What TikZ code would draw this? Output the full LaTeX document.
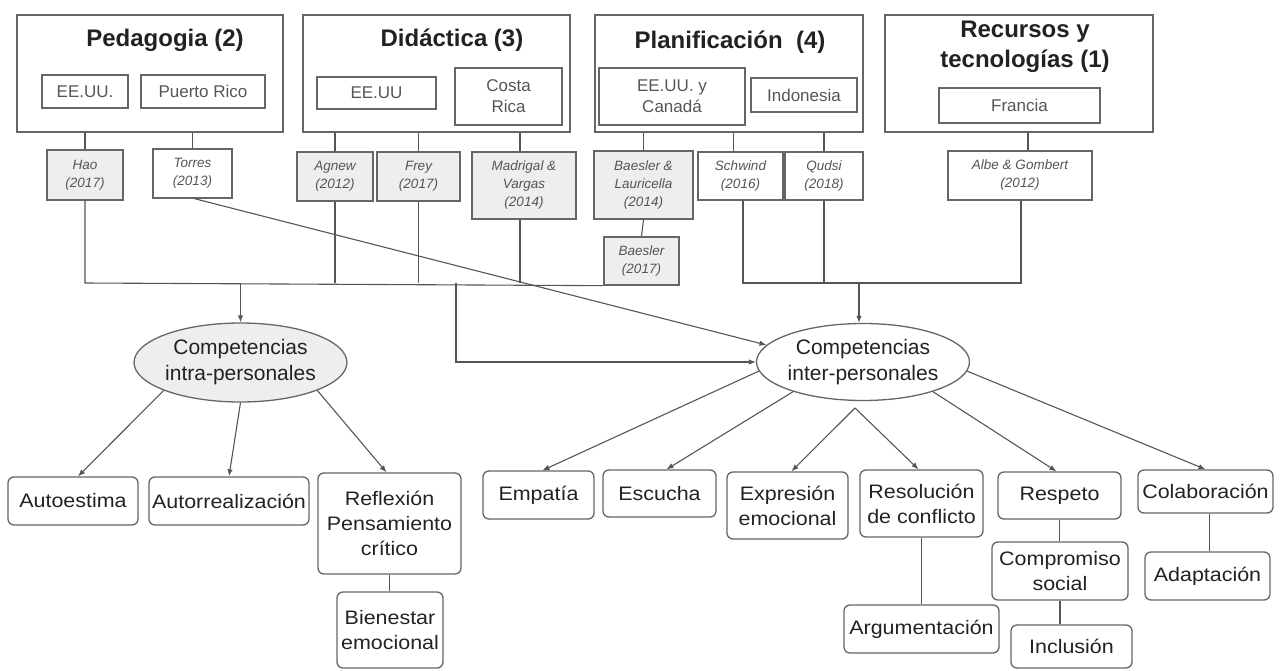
\documentclass[tikz,border=0pt]{standalone}
\usepackage{fontspec}
\setmainfont{Liberation Sans}
\newfontfamily\widesans{Liberation Sans}[FakeStretch=1.1]
\usetikzlibrary{shapes.geometric,arrows.meta,calc}
\definecolor{lc}{HTML}{555555}
\definecolor{bc}{HTML}{666666}
\definecolor{tc}{HTML}{222222}
\definecolor{sc}{HTML}{555555}
\definecolor{gf}{HTML}{EEEEEE}
\tikzset{
  topbox/.style={draw=bc, line width=1.6pt, rectangle, inner sep=0pt},
  ttl/.style={font=\fontsize{24}{30}\selectfont\bfseries, text=tc, align=center, inner sep=0pt},
  subbox/.style={draw=bc, line width=1.3pt, rectangle, inner sep=0pt, align=center,
    font=\fontsize{17}{21}\selectfont, text=sc},
  cite/.style={draw=bc, line width=1.3pt, rectangle, inner sep=0pt, align=center, fill=white,
    font=\fontsize{13.5}{18}\selectfont\itshape, text=sc},
  citeg/.style={cite, fill=gf},
  ell/.style={ellipse, draw=bc, line width=1.3pt, inner sep=0pt, align=center,
    font=\fontsize{21}{26}\selectfont, text=tc},
  rbox/.style={draw=bc, line width=1.3pt, rounded corners=6pt, inner sep=0pt, align=center,
    font=\widesans\fontsize{19.5}{25}\selectfont, text=tc},
  ln/.style={draw=lc, line width=1.1pt},
  arr/.style={ln, -{Latex[length=7pt,width=5.5pt]}},
}
\begin{document}
\begin{tikzpicture}[x=1pt,y=-1pt]
\useasboundingbox (0,0) rectangle (1283,670);
% top category boxes
\node[topbox, minimum width=266pt, minimum height=117pt] (ped) at (150,73.5) {};
\node[topbox, minimum width=267pt, minimum height=117pt] (did) at (436.5,73.5) {};
\node[topbox, minimum width=268pt, minimum height=117pt] (pla) at (729,73.5) {};
\node[topbox, minimum width=268pt, minimum height=117pt] (rec) at (1019,73.5) {};
\node[ttl] (pedt) at (165,40) {Pedagogia (2)};
\node[ttl] (didt) at (452,40) {Didáctica (3)};
\node[ttl] (plat) at (730,42) {Planificación\ \ (4)};
\node[ttl] (rect) at (1025,47) {Recursos y\\tecnologías (1)};
% country boxes
\node[subbox, minimum width=86pt, minimum height=33pt] (pedus) at (85,91.5) {EE.UU.};
\node[subbox, minimum width=124pt, minimum height=33pt] (pedpr) at (203,91.5) {Puerto Rico};
\node[subbox, minimum width=119pt, minimum height=32pt] (didus) at (376.5,93) {EE.UU};
\node[subbox, minimum width=107pt, minimum height=57pt] (didcr) at (508.5,96.5) {Costa\\Rica};
\node[subbox, minimum width=146pt, minimum height=57pt] (plaus) at (672,96.5) {EE.UU. y\\Canadá};
\node[subbox, minimum width=106pt, minimum height=34pt] (plain) at (804,95) {Indonesia};
\node[subbox, minimum width=161pt, minimum height=35pt] (recfr) at (1019.5,105.5) {Francia};
% citations
\node[citeg, minimum width=76pt, minimum height=50pt] (hao) at (85,175) {Hao\\(2017)};
\node[cite, minimum width=79pt, minimum height=49pt] (torres) at (192.5,173.5) {Torres\\(2013)};
\node[citeg, minimum width=76pt, minimum height=49pt] (agnew) at (335,176.5) {Agnew\\(2012)};
\node[citeg, minimum width=83pt, minimum height=49pt] (frey) at (418.5,176.5) {Frey\\(2017)};
\node[citeg, minimum width=104pt, minimum height=67pt] (madrigal) at (524,185.5) {Madrigal \&\\Vargas\\(2014)};
\node[citeg, minimum width=99pt, minimum height=68pt] (baesl) at (643.5,185) {Baesler \&\\Lauricella\\(2014)};
\node[citeg, minimum width=75pt, minimum height=48pt] (baes17) at (641.5,261) {Baesler\\(2017)};
\node[cite, minimum width=85pt, minimum height=48pt] (schwind) at (740.5,176) {Schwind\\(2016)};
\node[cite, minimum width=78pt, minimum height=48pt] (qudsi) at (824,176) {Qudsi\\(2018)};
\node[cite, minimum width=144pt, minimum height=49pt] (albe) at (1020,175.5) {Albe \& Gombert\\(2012)};
% connectors category -> citation
\draw[ln] (hao.north |- ped.south) -- (hao.north);
\draw[ln] (torres.north |- ped.south) -- (torres.north);
\draw[ln] (agnew.north |- did.south) -- (agnew.north);
\draw[ln] (frey.north |- did.south) -- (frey.north);
\draw[ln] ([xshift=-4pt]madrigal.north |- did.south) -- ([xshift=-4pt]madrigal.north);
\draw[ln] (baesl.north |- pla.south) -- (baesl.north);
\draw[ln] ([xshift=-7pt]schwind.north |- pla.south) -- ([xshift=-7pt]schwind.north);
\draw[ln] (qudsi.north |- pla.south) -- (qudsi.north);
\draw[ln] ([xshift=8pt]albe.north |- rec.south) -- ([xshift=8pt]albe.north);
\draw[ln] (baesl.south) -- (baes17.north);
% buses
\coordinate (busL) at (85,283);
\coordinate (busR) at (743,283);
\coordinate (busE) at (1021,283);
\draw[ln] (hao.south) -- (busL) -- (baes17.south west);
\draw[ln] (agnew.south) -- (agnew.south |- busL);
\draw[ln] (frey.south) -- (frey.south |- busL);
\draw[ln] ([xshift=-4pt]madrigal.south) -- ([xshift=-4pt]madrigal.south |- busL);
\draw[ln] ([xshift=2.5pt]schwind.south) -- (busR) -- (busE) -- (busE |- albe.south);
\draw[ln] (qudsi.south) -- (qudsi.south |- busR);
% ellipses
\node[ell, fill=gf, minimum width=207pt, minimum height=79pt] (intra) at (240.5,362.5) {Competencias\\intra-personales};
\node[ell, fill=white, minimum width=213pt, minimum height=77pt] (inter) at (863,362) {Competencias\\inter-personales};
\draw[arr] (intra.north |- busL) -- (intra.north);
\draw[arr] ([xshift=-4pt]inter.north |- busR) -- ([xshift=-4pt]inter.north);
\coordinate (stub) at (456,283);
\draw[arr] (stub) |- (inter.west);
\draw[arr] ([xshift=2pt]torres.south) -- (inter.170);
% bottom boxes
\node[rbox, minimum width=130pt, minimum height=48pt] (autoestima) at (73,501) {Autoestima};
\node[rbox, minimum width=160pt, minimum height=48pt] (autorreal) at (229,501) {Autorrealización};
\node[rbox, minimum width=143pt, minimum height=101pt] (reflexion) at (389.5,523.5) {Reflexión\\Pensamiento\\crítico};
\node[rbox, minimum width=106pt, minimum height=76pt] (bienestar) at (390,630) {Bienestar\\emocional};
\node[rbox, minimum width=111pt, minimum height=48pt] (empatia) at (538.5,495) {Empatía};
\node[rbox, minimum width=113pt, minimum height=47pt] (escucha) at (659.5,493.5) {Escucha};
\node[rbox, minimum width=121pt, minimum height=67pt] (expresion) at (787.5,505.5) {Expresión\\emocional};
\node[rbox, minimum width=123pt, minimum height=67pt] (resolucion) at (921.5,503.5) {Resolución\\de conflicto};
\node[rbox, minimum width=123pt, minimum height=47pt] (respeto) at (1059.5,495.5) {Respeto};
\node[rbox, minimum width=135pt, minimum height=43pt] (colab) at (1205.5,491.5) {Colaboración};
\node[rbox, minimum width=136pt, minimum height=58pt] (compromiso) at (1060,571) {Compromiso\\social};
\node[rbox, minimum width=121pt, minimum height=43pt] (inclusion) at (1071.5,646.5) {Inclusión};
\node[rbox, minimum width=155pt, minimum height=48pt] (argument) at (921.5,629) {Argumentación};
\node[rbox, minimum width=125pt, minimum height=48pt] (adaptacion) at (1207.5,576) {Adaptación};
% arrows from intra
\draw[arr] (intra.200) -- ([xshift=5pt]autoestima.north);
\draw[arr] (intra.south) -- (autorreal.north);
\draw[arr] (intra.-20) -- ([xshift=-3pt]reflexion.north);
% arrows from inter
\coordinate (fork) at (855,408);
\draw[arr] (inter.185) -- ([xshift=4pt]empatia.north);
\draw[arr] (inter.203) -- ([xshift=7pt]escucha.north);
\draw[arr] (fork) -- ([xshift=4pt]expresion.north);
\draw[arr] (fork) -- ([xshift=-3pt]resolucion.north);
\draw[arr] (inter.-23) -- ([xshift=-3pt]respeto.north);
\draw[arr] (inter.-5) -- (colab.north);
% sub links
\draw[ln] (reflexion.south) -- (bienestar.north -| reflexion.south);
\draw[ln] (resolucion.south) -- (argument.north -| resolucion.south);
\draw[ln] (respeto.south) -- (compromiso.north -| respeto.south);
\draw[ln] (compromiso.south) -- (inclusion.north -| compromiso.south);
\draw[ln] ([xshift=4pt]colab.south) -- ([xshift=4pt]colab.south |- adaptacion.north);
\end{tikzpicture}
\end{document}
